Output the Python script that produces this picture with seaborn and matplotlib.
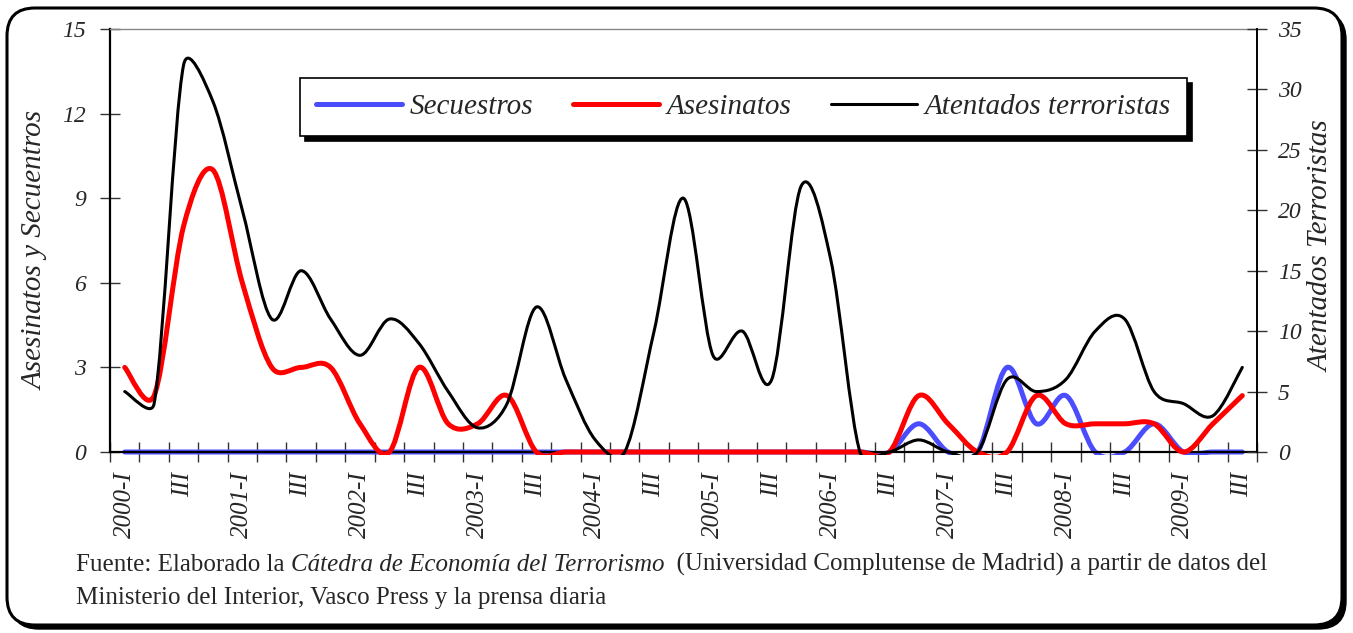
import numpy as np
import pandas as pd
import matplotlib
matplotlib.use("Agg")
import matplotlib.pyplot as plt
import seaborn as sns
from matplotlib.path import Path
from matplotlib.patches import PathPatch, FancyBboxPatch, Rectangle
from matplotlib.lines import Line2D
from matplotlib.transforms import IdentityTransform

# quarterly series 2000-I .. 2009-III
quarters = [f"{y}-{q}" for y in range(2000, 2010) for q in ("I", "II", "III", "IV")][:39]
tick_labels = ["2000-I", "III", "2001-I", "III", "2002-I", "III", "2003-I", "III",
               "2004-I", "III", "2005-I", "III", "2006-I", "III", "2007-I", "III",
               "2008-I", "III", "2009-I", "III"]

secuestros = [0, 0, 0, 0, 0, 0, 0, 0, 0, 0,
              0, 0, 0, 0, 0, 0, 0, 0, 0, 0,
              0, 0, 0, 0, 0, 0, 0, 1, 0, 0,
              3, 1, 2, 0, 0, 1, 0, 0, 0]
asesinatos = [3, 2, 8, 10, 6, 3, 3, 3, 1, 0,
              3, 1, 1, 2, 0, 0, 0, 0, 0, 0,
              0, 0, 0, 0, 0, 0, 0, 2, 1, 0,
              0, 2, 1, 1, 1, 1, 0, 1, 2]
atentados = [5, 4, 32, 29, 20, 11, 15, 11, 8, 11,
             9, 5, 2, 4, 12, 6, 1, 0, 10, 21,
             8, 10, 6, 22, 16, 0, 0, 1, 0, 0,
             6, 5, 6, 10, 11, 5, 4, 3, 7]

df = pd.DataFrame({"quarter": quarters, "pos": np.arange(len(quarters)),
                   "secuestros": secuestros, "asesinatos": asesinatos,
                   "atentados": atentados})

BLUE = "#4c4cff"
RED = "#ff0000"

sns.set_theme(style="white")
plt.rcParams["font.family"] = ["Liberation Serif", "DejaVu Serif"]
plt.rcParams["font.style"] = "italic"

W, H = 1353, 633
fig = plt.figure(figsize=(W / 100, H / 100), dpi=100)
fig.patch.set_facecolor("white")

# rounded outer frame with shadow (pixel coords)
px = IdentityTransform()
shadow = FancyBboxPatch((11, 4), 1335, 617, boxstyle="round,pad=0,rounding_size=28",
                        transform=px, facecolor="black", edgecolor="black", lw=1, zorder=-10)
frame = FancyBboxPatch((7, 8), 1335, 617, boxstyle="round,pad=0,rounding_size=28",
                       transform=px, facecolor="white", edgecolor="black", lw=2.2, zorder=-9)
fig.patches.extend([shadow, frame])

ax = fig.add_axes([110 / W, 1 - 452 / H, 1147 / W, 423 / H])
ax2 = ax.twinx()
n = len(df)
ax.set_xlim(-0.5, n - 0.5)
ax.set_ylim(0, 15)
ax2.set_ylim(0, 35)
ax.set_yticks(np.arange(0, 16, 3))
ax2.set_yticks(np.arange(0, 36, 5))


def smooth_patch(axis, xs, ys, **kw):
    # Excel-like smoothed line: bezier segments through the data points,
    # control arms of 1/6 the neighbour chord, capped at half the segment
    pts = axis.transData.transform(np.column_stack([xs, ys]).astype(float))
    m = len(pts)
    verts = [pts[0]]
    codes = [Path.MOVETO]
    for i in range(m - 1):
        p1, p2 = pts[i], pts[i + 1]
        p0 = pts[i - 1] if i > 0 else p1
        p3 = pts[i + 2] if i + 2 < m else p2
        half = np.hypot(*(p2 - p1)) / 2
        t1 = (p2 - p0) / 6
        t2 = (p3 - p1) / 6
        l1, l2 = np.hypot(*t1), np.hypot(*t2)
        if l1 > half:
            t1 = t1 * half / l1
        if l2 > half:
            t2 = t2 * half / l2
        verts += [p1 + t1, p2 - t2, p2]
        codes += [Path.CURVE4] * 3
    verts = axis.transData.inverted().transform(np.array(verts))
    patch = PathPatch(Path(verts, codes), fill=False, capstyle="round",
                      joinstyle="round", **kw)
    axis.add_patch(patch)
    clip = Rectangle((0, -0.007), 1, 1.014, transform=axis.transAxes)
    patch.set_clip_path(clip)
    return patch


smooth_patch(ax, df["pos"], df["secuestros"], edgecolor=BLUE, lw=3.6, zorder=2)
smooth_patch(ax, df["pos"], df["asesinatos"], edgecolor=RED, lw=3.6, zorder=3)
smooth_patch(ax2, df["pos"], df["atentados"], edgecolor="black", lw=2.2, zorder=3)

# x axis: ticks between categories, labels on every second quarter
ax.set_xticks(np.arange(-0.5, n, 1))
ax.set_xticklabels([])
ax.set_xticks(df["pos"][::2], tick_labels, minor=True)
ax.tick_params(axis="x", which="major", bottom=True, direction="inout", length=14,
               width=1, color="#333333")
ax.tick_params(axis="x", which="minor", bottom=True, length=0, pad=14,
               labelsize=18, labelrotation=90)
ax.tick_params(axis="y", left=True, direction="inout", length=14, width=1,
               color="#333333", labelsize=17, pad=10)
ax2.tick_params(axis="y", right=True, direction="inout", length=14, width=1,
                color="#333333", labelsize=17, pad=8)

for s in ("left", "bottom"):
    ax.spines[s].set_color("black")
    ax.spines[s].set_linewidth(1.6)
ax.spines["top"].set_color("#888888")
ax.spines["top"].set_linewidth(1)
ax.spines["right"].set_visible(False)
for s in ("left", "bottom", "top"):
    ax2.spines[s].set_visible(False)
ax2.spines["right"].set_color("black")
ax2.spines["right"].set_linewidth(1.4)
ax.grid(False)
ax2.grid(False)

fig.text(36 / W, 1 - 250 / H, "Asesinatos y Secuentros", rotation=90,
         ha="center", va="center", size=21)
fig.text(1322 / W, 1 - 246 / H, "Atentados Terroristas", rotation=90,
         ha="center", va="center", size=21)

handles = [Line2D([], [], color=BLUE, lw=3.6),
           Line2D([], [], color=RED, lw=3.6, solid_capstyle="round"),
           Line2D([], [], color="black", lw=2.2)]
leg = ax2.legend(handles, ["Secuestros", "Asesinatos", "Atentados terroristas"],
                 ncol=3, loc="center", mode="expand",
                 bbox_to_anchor=(300 / W, 1 - 136 / H, 887 / W, 58 / H),
                 bbox_transform=fig.transFigure, frameon=True, fancybox=False,
                 shadow={"ox": 3.5, "oy": -3.5, "color": "black", "alpha": 1},
                 prop={"size": 21, "style": "italic"}, handlelength=2.95,
                 handletextpad=0.25, borderaxespad=0, borderpad=0.55,
                 columnspacing=1.2)
leg.get_frame().set_edgecolor("black")
leg.get_frame().set_linewidth(1.2)
leg.get_frame().set_alpha(1)

# source note, mixed regular/italic
t1 = fig.text(76 / W, 1 - 565 / H, "Fuente: Elaborado la ", va="center",
              size=18, style="normal")
t2 = ax.annotate("Cátedra de Economía del Terrorismo", xy=(1, 0), xycoords=t1,
                 va="bottom", ha="left", size=18, style="italic",
                 annotation_clip=False)
ax.annotate("  (Universidad Complutense de Madrid) a partir de datos del", xy=(1, 0),
            xycoords=t2, va="bottom", ha="left", size=18, style="normal",
            annotation_clip=False)
fig.text(76 / W, 1 - 598 / H, "Ministerio del Interior, Vasco Press y la prensa diaria",
         va="center", size=18, style="normal")

fig.savefig("out.png", dpi=100)
